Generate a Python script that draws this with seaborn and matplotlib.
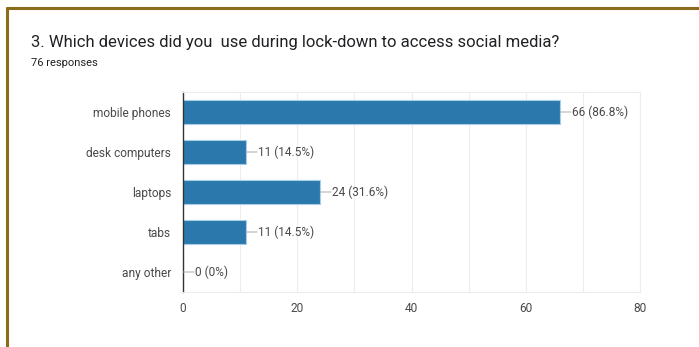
import matplotlib
matplotlib.use("Agg")
import matplotlib.pyplot as plt
from matplotlib.lines import Line2D
import seaborn as sns
import pandas as pd

devices = ["mobile phones", "desk computers", "laptops", "tabs", "any other"]
counts = [66, 11, 24, 11, 0]
percents = ["86.8%", "14.5%", "31.6%", "14.5%", "0%"]
x_ticks = [0, 20, 40, 60, 80]

sns.set_theme(style="white")
plt.rcParams["font.family"] = ["Roboto", "DejaVu Sans"]

df = pd.DataFrame({"device": devices, "count": counts})

fig = plt.figure(figsize=(6.99, 3.47), dpi=100)
W, H = 699, 347
ax = fig.add_axes([183 / W, 1 - 292 / H, (640 - 183) / W, (292 - 92) / H])

sns.barplot(data=df, y="device", x="count", orient="h", color="#2b79ac",
            saturation=1, width=0.6, edgecolor="#a8cde6", linewidth=0.8, ax=ax)

ax.set_xlim(0, 80)
ax.set_xticks(x_ticks)
ax.set_xticks(range(0, 81, 10), minor=True)
ax.grid(axis="x", which="both", color="#ededed", linewidth=0.8)
ax.set_axisbelow(True)
ax.set_xlabel("")
ax.set_ylabel("")
for side in ["top", "right", "bottom"]:
    ax.spines[side].set_visible(True)
    ax.spines[side].set_color("#ededed")
    ax.spines[side].set_linewidth(0.8)
ax.spines["left"].set_color("#333333")
ax.spines["left"].set_linewidth(1.0)
ax.tick_params(axis="both", length=0, labelsize=8.6, labelcolor="#4a4a4a")
ax.tick_params(axis="y", pad=8.5)
ax.tick_params(axis="x", pad=7)

# value annotations with a short leader line from the bar end
for i, (c, p) in enumerate(zip(counts, percents)):
    ax.annotate("", xy=(c, i), xytext=(8, 0), textcoords="offset points",
                arrowprops=dict(arrowstyle="-", color="#aaaaaa", lw=0.7,
                                shrinkA=0, shrinkB=0))
    ax.annotate(f"{c} ({p})", xy=(c, i), xytext=(8.5, 0),
                textcoords="offset points", va="center", ha="left",
                fontsize=8.6, color="#4a4a4a")

fig.text(31 / W, 1 - 42 / H, "3. Which devices did you  use during lock-down to access social media?",
         fontsize=12, color="#202124", va="center", ha="left")
fig.text(31 / W, 1 - 63 / H, "76 responses", fontsize=8, color="#202124",
         va="center", ha="left")

# page frame
frame = "#8b6c1a"
fig.add_artist(Line2D([7 / W, 7 / W], [0, 1 - 7 / H], color=frame, lw=2.2,
                      transform=fig.transFigure, solid_capstyle="butt"))
fig.add_artist(Line2D([6 / W, 1], [1 - 7.5 / H, 1 - 7.5 / H], color=frame, lw=2.2,
                      transform=fig.transFigure, solid_capstyle="butt"))

fig.savefig("out.png", dpi=100)
